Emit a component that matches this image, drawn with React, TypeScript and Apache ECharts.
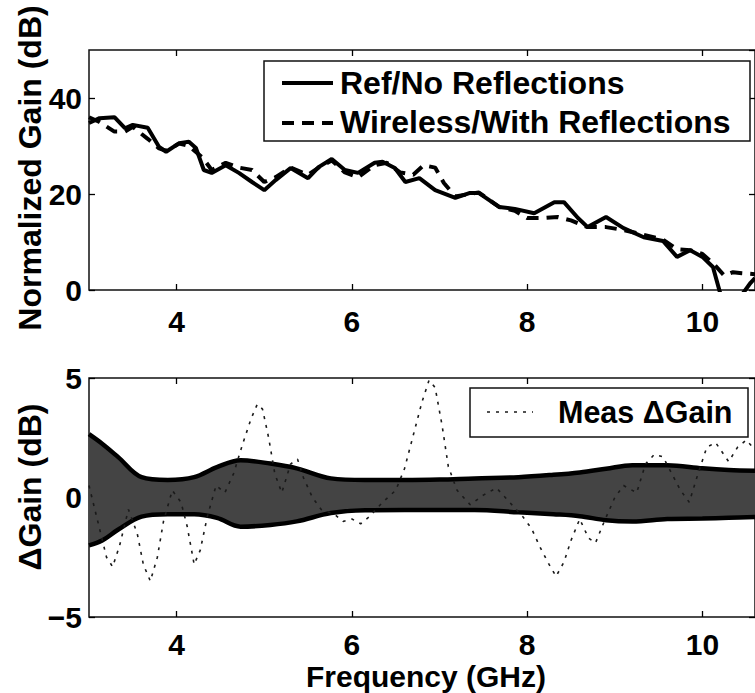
import React, { useEffect, useRef } from "react";
import * as echarts from "echarts";

// ---------- data ----------
const xTicks = [4, 6, 8, 10];

const refFreq = [3.0, 3.12, 3.29, 3.41, 3.5, 3.67, 3.8, 3.88, 4.03, 4.14, 4.22, 4.31, 4.4, 4.56, 4.71, 4.86, 5.0, 5.13, 5.3, 5.5, 5.62, 5.77, 5.92, 6.07, 6.26, 6.35, 6.49, 6.61, 6.77, 6.95, 7.18, 7.34, 7.45, 7.68, 7.86, 8.08, 8.31, 8.42, 8.58, 8.69, 8.9, 9.1, 9.33, 9.55, 9.71, 9.86, 10.0, 10.12, 10.2, 10.3, 10.45, 10.55, 10.6];
const refGain = [34.8, 35.8, 36, 33.7, 34.4, 33.8, 29.8, 28.8, 30.6, 30.9, 29.6, 25, 24.4, 26, 24.4, 22.5, 20.8, 22.9, 25.4, 23.3, 25.6, 27.3, 25, 24.4, 26.5, 26.7, 25.4, 22.5, 23.3, 20.8, 19.2, 20.2, 20.2, 17.3, 16.9, 16, 18.3, 18.3, 15, 13.1, 15.2, 12.9, 11, 10.2, 6.9, 8.3, 6.9, 4.8, -0.5, -3, -1, 1.5, 2.5];

const wirelessFreq = [3.0, 3.12, 3.29, 3.41, 3.5, 3.6, 3.67, 3.8, 3.88, 4.03, 4.14, 4.3, 4.4, 4.56, 4.71, 4.86, 5.0, 5.13, 5.3, 5.5, 5.62, 5.77, 5.92, 6.07, 6.26, 6.4, 6.55, 6.7, 6.82, 6.95, 7.05, 7.18, 7.34, 7.45, 7.68, 7.86, 8.0, 8.2, 8.35, 8.5, 8.69, 8.9, 9.1, 9.33, 9.55, 9.71, 9.86, 10.0, 10.12, 10.25, 10.35, 10.45, 10.6];
const wirelessGain = [36, 35, 33, 33, 34, 32.5, 31.5, 29.5, 29, 30.5, 30, 27.5, 25, 26.5, 25.5, 25, 22.5, 23.5, 25.5, 24, 25.5, 27, 24.5, 23.5, 26, 26.5, 24.5, 24, 26, 25.5, 22.3, 19.5, 20, 20.3, 17.3, 16.5, 15, 15, 15.2, 14.5, 13.1, 13.1, 12.5, 11.5, 10.5, 8.5, 8.3, 7.5, 5.6, 3, 3.7, 3.5, 3.3];

const bandFreq = [3.0, 3.15, 3.33, 3.6, 3.9, 4.2, 4.46, 4.73, 5.07, 5.37, 5.76, 6.15, 6.6, 7.0, 7.4, 7.9, 8.3, 8.6, 8.9, 9.2, 9.6, 10.0, 10.3, 10.6];
const bandUpper = [2.65, 2.25, 1.7, 0.85, 0.73, 0.85, 1.27, 1.56, 1.42, 1.22, 0.8, 0.73, 0.73, 0.75, 0.8, 0.85, 0.95, 1.05, 1.2, 1.35, 1.35, 1.22, 1.15, 1.12];
const bandLower = [-2.0, -1.8, -1.35, -0.8, -0.7, -0.7, -0.85, -1.22, -1.15, -1.0, -0.65, -0.53, -0.52, -0.52, -0.52, -0.62, -0.7, -0.78, -0.95, -1.0, -0.9, -0.88, -0.85, -0.82];

const deltaFreq = [3.0, 3.1, 3.2, 3.27, 3.35, 3.45, 3.55, 3.62, 3.7, 3.78, 3.85, 3.95, 4.05, 4.12, 4.2, 4.27, 4.35, 4.45, 4.55, 4.65, 4.75, 4.85, 4.92, 4.98, 5.05, 5.12, 5.2, 5.3, 5.38, 5.45, 5.55, 5.65, 5.8, 5.9, 6.0, 6.1, 6.2, 6.35, 6.5, 6.6, 6.7, 6.8, 6.88, 6.95, 7.03, 7.1, 7.2, 7.35, 7.5, 7.65, 7.8, 7.95, 8.05, 8.15, 8.25, 8.33, 8.42, 8.5, 8.6, 8.7, 8.78, 8.88, 9.0, 9.1, 9.25, 9.35, 9.45, 9.55, 9.65, 9.75, 9.85, 9.95, 10.05, 10.15, 10.3, 10.4, 10.5, 10.6];
const deltaMeas = [0.5, -1.0, -2.5, -2.9, -2.0, -0.5, -1.5, -2.8, -3.5, -2.5, -1.0, 0.3, -0.2, -1.2, -2.8, -2.2, -0.8, 0.5, 0.2, 1.0, 2.2, 3.3, 3.9, 3.7, 2.5, 1.0, 0.2, 1.4, 1.6, 0.8, 0.0, -0.5, -0.7, -1.0, -0.9, -1.1, -0.8, -0.2, 0.3, 1.2, 2.6, 4.0, 4.9, 4.6, 3.0, 1.3, 0.3, -0.3, 0.1, 0.4, -0.2, -0.8, -1.3, -2.1, -2.8, -3.3, -2.7, -1.8, -0.9, -1.7, -1.9, -1.0, 0.0, 0.5, 0.2, 1.4, 1.8, 1.7, 1.0, 0.3, -0.2, 1.0, 2.1, 2.3, 1.5, 2.1, 2.4, 2.0];

const legendTop = ["Ref/No Reflections", "Wireless/With Reflections"];
const legendBottom = ["Meas \u0394Gain"];
const titles = ["Normalized Gain (dB)", "\u0394Gain (dB)", "Frequency (GHz)"];

// ---------- chart ----------
const FONT = "'Liberation Sans', Arial, Helvetica, sans-serif";
const BAND_FILL = "#444444";

const pair = (xs: number[], ys: number[]) => xs.map((x, i) => [x, ys[i]]);

export default function App() {
  const ref = useRef<HTMLDivElement>(null);

  useEffect(() => {
    if (!ref.current) return;
    const chart = echarts.init(ref.current, undefined, { renderer: "svg" });

    const labelText = { fontFamily: FONT, fontWeight: "bold", fontSize: 30, color: "#000" };
    const tickStyle = { color: "#000", width: 1.3 };

    const xAx = (gridIndex: number, position: string, showLabel: boolean, margin: number) => ({
      type: "value",
      gridIndex,
      position,
      min: 3,
      max: 10.6,
      axisLine: { show: false, onZero: false },
      splitLine: { show: false },
      axisTick: { show: true, inside: true, length: 6, customValues: xTicks, lineStyle: tickStyle },
      axisLabel: { show: showLabel, customValues: xTicks, margin, ...labelText },
    });

    const yAx = (gridIndex: number, position: string, showLabel: boolean, min: number, max: number, interval: number, showMax: boolean) => ({
      type: "value",
      gridIndex,
      position,
      min,
      max,
      interval,
      axisLine: { show: false, onZero: false },
      splitLine: { show: false },
      axisTick: { show: true, inside: true, length: 6, lineStyle: tickStyle },
      axisLabel: {
        show: showLabel,
        showMaxLabel: showMax,
        margin: 7,
        ...labelText,
        formatter: (v: number) => (v < 0 ? "\u2212" + Math.abs(v) : String(v)),
      },
    });

    const bandLine = (data: number[]) => ({
      type: "line",
      xAxisIndex: 2,
      yAxisIndex: 2,
      data: pair(bandFreq, data),
      symbol: "none",
      smooth: 0.35,
      lineStyle: { color: "#000", width: 4.5 },
      areaStyle: { color: BAND_FILL, opacity: 1, origin: 0 },
      z: 2,
    });

    const option: any = {
      animation: false,
      backgroundColor: "#fff",
      grid: [
        { left: 89, top: 50, height: 240, right: -5, show: true, borderColor: "#111", borderWidth: 1.5, backgroundColor: "transparent" },
        { left: 89, top: 378, height: 239, right: -5, show: true, borderColor: "#111", borderWidth: 1.5, backgroundColor: "transparent" },
      ],
      xAxis: [
        xAx(0, "bottom", true, 16),
        xAx(0, "top", false, 8),
        xAx(1, "bottom", true, 12),
        xAx(1, "top", false, 8),
      ],
      yAxis: [
        yAx(0, "left", true, 0, 50, 20, false),
        yAx(0, "right", false, 0, 50, 20, false),
        yAx(1, "left", true, -5, 5, 5, true),
        yAx(1, "right", false, -5, 5, 5, true),
      ],
      series: [
        {
          name: legendTop[0],
          type: "line",
          xAxisIndex: 0,
          yAxisIndex: 0,
          data: pair(refFreq, refGain),
          showSymbol: false,
          symbol: "none",
          clip: true,
          lineStyle: { color: "#000", width: 4 },
          z: 3,
        },
        {
          name: legendTop[1],
          type: "line",
          xAxisIndex: 0,
          yAxisIndex: 0,
          data: pair(wirelessFreq, wirelessGain),
          showSymbol: false,
          symbol: "none",
          clip: true,
          lineStyle: { color: "#000", width: 4, type: [12, 8] },
          z: 3,
        },
        { name: "bandUpper", ...bandLine(bandUpper) },
        { name: "bandLower", ...bandLine(bandLower) },
        {
          // covers the anti-aliasing seam between the two halves of the band
          name: "bandSeam",
          type: "line",
          xAxisIndex: 2,
          yAxisIndex: 2,
          data: pair(bandFreq, bandFreq.map(() => 0)),
          symbol: "none",
          lineStyle: { color: BAND_FILL, width: 3 },
          z: 2,
        },
        {
          name: legendBottom[0],
          type: "line",
          xAxisIndex: 2,
          yAxisIndex: 2,
          data: pair(deltaFreq, deltaMeas),
          symbol: "none",
          clip: true,
          lineStyle: { color: "#1a1a1a", width: 1.6, type: [3, 6] },
          z: 4,
        },
      ],
      graphic: [
        // axis titles
        {
          type: "text",
          x: 30,
          y: 168,
          rotation: Math.PI / 2,
          style: { text: titles[0], fontFamily: FONT, fontWeight: "bold", fontSize: 32, fill: "#000", align: "center", verticalAlign: "middle" },
        },
        {
          type: "text",
          x: 30,
          y: 487,
          rotation: Math.PI / 2,
          style: { text: titles[1], fontFamily: FONT, fontWeight: "bold", fontSize: 32, fill: "#000", align: "center", verticalAlign: "middle" },
        },
        {
          type: "text",
          x: 426,
          y: 676,
          style: { text: titles[2], fontFamily: FONT, fontWeight: "bold", fontSize: 30, fill: "#000", align: "center", verticalAlign: "middle" },
        },
        // top legend
        {
          type: "rect",
          shape: { x: 264, y: 61, width: 486, height: 80 },
          style: { fill: "#fff", stroke: "#111", lineWidth: 1.5 },
          z: 10,
        },
        {
          type: "line",
          shape: { x1: 282, y1: 83, x2: 333, y2: 83 },
          style: { stroke: "#000", lineWidth: 4 },
          z: 11,
        },
        {
          type: "line",
          shape: { x1: 282, y1: 123, x2: 333, y2: 123 },
          style: { stroke: "#000", lineWidth: 4, lineDash: [12, 8] },
          z: 11,
        },
        {
          type: "text",
          x: 340,
          y: 83,
          style: { text: legendTop[0], fontFamily: FONT, fontWeight: "bold", fontSize: 32, fill: "#000", align: "left", verticalAlign: "middle" },
          z: 11,
        },
        {
          type: "text",
          x: 340,
          y: 122,
          style: { text: legendTop[1], fontFamily: FONT, fontWeight: "bold", fontSize: 32, fill: "#000", align: "left", verticalAlign: "middle" },
          z: 11,
        },
        // bottom legend
        {
          type: "rect",
          shape: { x: 470, y: 388, width: 278, height: 49 },
          style: { fill: "#fff", stroke: "#111", lineWidth: 1.5 },
          z: 10,
        },
        {
          type: "line",
          shape: { x1: 487, y1: 412, x2: 533, y2: 412 },
          style: { stroke: "#1a1a1a", lineWidth: 1.6, lineDash: [3, 6] },
          z: 11,
        },
        {
          type: "text",
          x: 558,
          y: 412,
          style: { text: legendBottom[0], fontFamily: FONT, fontWeight: "bold", fontSize: 30.5, fill: "#000", align: "left", verticalAlign: "middle" },
          z: 11,
        },
      ],
    };

    chart.setOption(option);
    return () => chart.dispose();
  }, []);

  return (
    <div
      ref={ref}
      style={{ position: "absolute", left: 0, top: 0, width: 755, height: 693, background: "#fff" }}
    />
  );
}
